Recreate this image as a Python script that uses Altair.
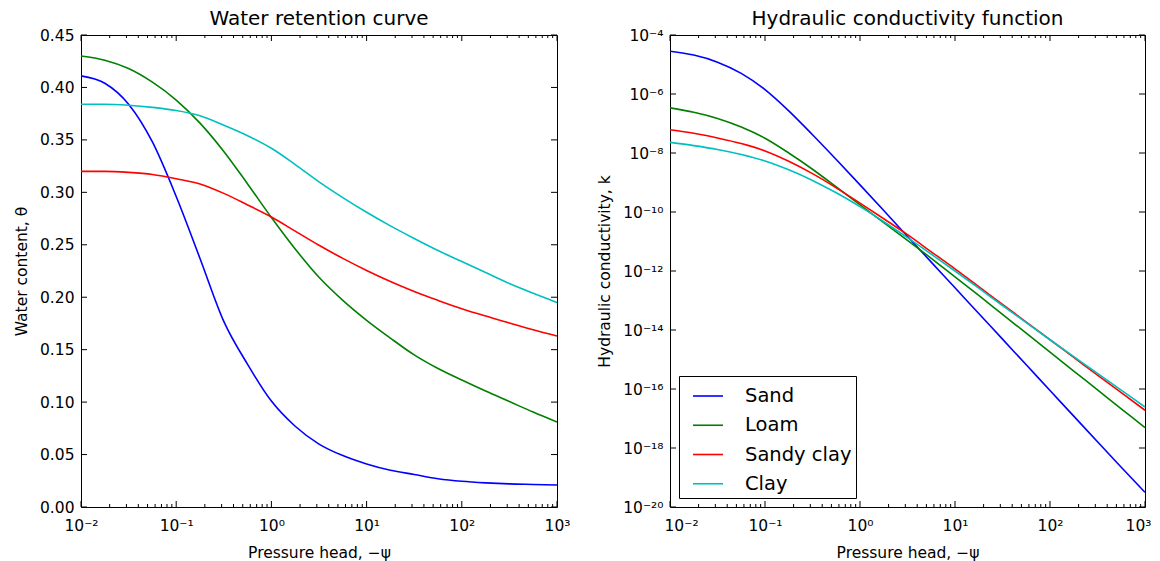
import altair as alt
import pandas as pd

SOILS = ["Sand", "Loam", "Sandy clay", "Clay"]
COLORS = ["#0000ff", "#008000", "#ff0000", "#00bfbf"]

# log10 of pressure head at which values were read
LOG_PSI = [-2.0, -1.75, -1.5, -1.25, -1.0, -0.75, -0.5, -0.25, 0.0, 0.25, 0.5,
           0.75, 1.0, 1.25, 1.5, 1.75, 2.0, 2.25, 2.5, 2.75, 3.0]

# Water content theta
THETA_SAND = [0.411, 0.404, 0.384, 0.348, 0.296, 0.237, 0.177, 0.136, 0.101, 0.077, 0.060,
              0.049, 0.041, 0.035, 0.031, 0.027, 0.0245, 0.023, 0.022, 0.0215, 0.021]
THETA_LOAM = [0.430, 0.426, 0.418, 0.405, 0.388, 0.366, 0.339, 0.308, 0.276, 0.246, 0.219,
              0.197, 0.178, 0.161, 0.145, 0.132, 0.121, 0.1105, 0.1005, 0.0905, 0.081]
THETA_SCLAY = [0.320, 0.320, 0.319, 0.317, 0.313, 0.308, 0.299, 0.288, 0.2765, 0.263, 0.2495,
               0.237, 0.2255, 0.215, 0.2055, 0.197, 0.189, 0.182, 0.1755, 0.169, 0.163]
THETA_CLAY = [0.384, 0.384, 0.383, 0.381, 0.378, 0.373, 0.364, 0.354, 0.342, 0.3265, 0.310,
              0.295, 0.281, 0.268, 0.256, 0.2445, 0.234, 0.2235, 0.213, 0.2037, 0.195]

# log10 of hydraulic conductivity k
LOGK_SAND = [-4.55, -4.68, -4.92, -5.30, -5.85, -6.57, -7.38, -8.22, -9.08, -9.95, -10.83,
             -11.70, -12.57, -13.44, -14.31, -15.18, -16.05, -16.92, -17.79, -18.65, -19.50]
LOGK_LOAM = [-6.47, -6.62, -6.83, -7.12, -7.50, -8.00, -8.55, -9.15, -9.76, -10.36, -10.96,
             -11.57, -12.20, -12.83, -13.47, -14.11, -14.75, -15.39, -16.03, -16.67, -17.31]
LOGK_SCLAY = [-7.21, -7.33, -7.49, -7.68, -7.93, -8.28, -8.70, -9.18, -9.70, -10.23, -10.77,
              -11.35, -11.93, -12.53, -13.13, -13.73, -14.33, -14.93, -15.53, -16.12, -16.72]
LOGK_CLAY = [-7.64, -7.75, -7.88, -8.05, -8.27, -8.57, -8.93, -9.35, -9.82, -10.33, -10.87,
             -11.43, -12.00, -12.58, -13.17, -13.75, -14.33, -14.90, -15.47, -16.04, -16.61]

X_MAJOR_EXP = [-2, -1, 0, 1, 2, 3]
X_MINOR_MULT = [2, 3, 4, 5, 6, 7, 8, 9]
Y_LEFT_TICKS = [0.0, 0.05, 0.10, 0.15, 0.20, 0.25, 0.30, 0.35, 0.40, 0.45]
Y_RIGHT_EXP = [-20, -18, -16, -14, -12, -10, -8, -6, -4]

FONT = "DejaVu Sans"
WL, WR, H = 476, 475, 472
MAJ, MIN = 6, 3

SUP = str.maketrans("-0123456789", "⁻⁰¹²³⁴⁵⁶⁷⁸⁹")


def pow_label_expr(exps):
    s = "''"
    for e in exps:
        s = f"(round(log(datum.value)/LN10) == {e} ? '10{str(e).translate(SUP)}' : {s})"
    return s


psi = [10 ** v for v in LOG_PSI]
rows_t, rows_k = [], []
for name, th, lk in zip(SOILS,
                        [THETA_SAND, THETA_LOAM, THETA_SCLAY, THETA_CLAY],
                        [LOGK_SAND, LOGK_LOAM, LOGK_SCLAY, LOGK_CLAY]):
    for p, t, k in zip(psi, th, lk):
        rows_t.append({"psi": p, "val": t, "soil": name})
        rows_k.append({"psi": p, "val": 10 ** k, "soil": name})
df_t = pd.DataFrame(rows_t)
df_k = pd.DataFrame(rows_k)

x_major = pd.DataFrame({"v": [10.0 ** e for e in X_MAJOR_EXP]})
x_minor = pd.DataFrame({"v": [m * 10.0 ** e for e in X_MAJOR_EXP[:-1] for m in X_MINOR_MULT]})
y_left = pd.DataFrame({"v": Y_LEFT_TICKS})
y_right = pd.DataFrame({"v": [10.0 ** e for e in Y_RIGHT_EXP]})

xscale = alt.Scale(type="log", domain=[0.01, 1000], nice=False, padding=0)


def make_xaxis(flush):
    extra = dict(labelFlush=True, labelFlushOffset=6) if flush else dict(labelFlush=False)
    return alt.Axis(title="Pressure head, −ψ", values=[10.0 ** e for e in X_MAJOR_EXP],
                    labelExpr=pow_label_expr(X_MAJOR_EXP), labelPadding=11, titlePadding=12,
                    labelOverlap=False, **extra)


color = alt.Color("soil:N", scale=alt.Scale(domain=SOILS, range=COLORS), sort=SOILS)


def panel(df, W, yscale, yaxis, xaxis, title, ydf, legend):
    lines = alt.Chart(df).mark_line(strokeWidth=1.6, interpolate="monotone").encode(
        x=alt.X("psi:Q", scale=xscale, axis=xaxis),
        y=alt.Y("val:Q", scale=yscale, axis=yaxis),
        color=color.legend(legend) if legend is not None else color.legend(None),
        detail="soil:N",
    )
    rule = dict(color="black", strokeWidth=1)
    xb_maj = alt.Chart(x_major).mark_rule(**rule).encode(
        x=alt.X("v:Q", scale=xscale, axis=xaxis), y=alt.value(H), y2=alt.value(H - MAJ))
    xt_maj = alt.Chart(x_major).mark_rule(**rule).encode(
        x=alt.X("v:Q", scale=xscale, axis=xaxis), y=alt.value(0), y2=alt.value(MAJ))
    xb_min = alt.Chart(x_minor).mark_rule(**rule).encode(
        x=alt.X("v:Q", scale=xscale, axis=xaxis), y=alt.value(H), y2=alt.value(H - MIN))
    xt_min = alt.Chart(x_minor).mark_rule(**rule).encode(
        x=alt.X("v:Q", scale=xscale, axis=xaxis), y=alt.value(0), y2=alt.value(MIN))
    yl = alt.Chart(ydf).mark_rule(**rule).encode(
        y=alt.Y("v:Q", scale=yscale, axis=yaxis), x=alt.value(0), x2=alt.value(MAJ))
    yr = alt.Chart(ydf).mark_rule(**rule).encode(
        y=alt.Y("v:Q", scale=yscale, axis=yaxis), x=alt.value(W), x2=alt.value(W - MAJ))
    return alt.layer(lines, xb_maj, xt_maj, xb_min, xt_min, yl, yr).properties(
        width=W, height=H,
        title=alt.TitleParams(title, fontSize=20, fontWeight="normal", font=FONT, offset=-1,
                              color="black"),
    )


left = panel(
    df_t, WL,
    alt.Scale(domain=[0, 0.45], nice=False, zero=False, padding=0),
    alt.Axis(title="Water content, θ", values=Y_LEFT_TICKS, format=".2f",
             labelPadding=7, titlePadding=10, labelFlush=False, labelOverlap=False),
    make_xaxis(False),
    "Water retention curve", y_left, None,
)

right = panel(
    df_k, WR,
    alt.Scale(type="log", domain=[1e-20, 1e-4], nice=False, padding=0),
    alt.Axis(title="Hydraulic conductivity, k", values=[10.0 ** e for e in Y_RIGHT_EXP],
             labelExpr=pow_label_expr(Y_RIGHT_EXP), labelPadding=7, titlePadding=10,
             labelFlush=False, labelOverlap=False),
    make_xaxis(True),
    "Hydraulic conductivity function", y_right,
    alt.Legend(title=None, orient="bottom-left", offset=9, padding=4,
               strokeColor="black", fillColor="white", cornerRadius=0,
               symbolType="stroke", symbolSize=900, symbolStrokeWidth=1.6,
               symbolOffset=9,
               labelFontSize=19.5, labelFont=FONT, labelOffset=21, rowPadding=3.25,
               labelColor="black"),
)

chart = alt.hconcat(left, right, spacing=26).resolve_scale(color="independent").configure(
    padding={"left": 5, "top": 0, "right": 0, "bottom": 0},
).configure_view(
    stroke="black", strokeWidth=1,
).configure_axis(
    domain=False, ticks=False, grid=False,
    labelFont=FONT, labelFontSize=15.5, labelColor="black",
    titleFont=FONT, titleFontSize=15.5, titleFontWeight="normal", titleColor="black",
)

chart.save("out.html", embed_options={"renderer": "svg", "actions": False})
